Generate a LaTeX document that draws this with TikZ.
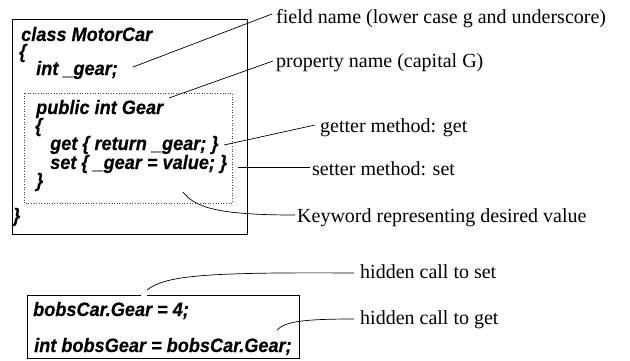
\documentclass[tikz,border=0pt]{standalone}
\usepackage{fontspec}
\setmainfont{Liberation Serif}
\newfontfamily\codefont[FakeStretch=0.93,BoldItalicFeatures={FakeBold=0.3}]{Liberation Sans}
\begin{document}
\begin{tikzpicture}[x=1pt,y=-1pt,
  code/.style={anchor=base west,inner sep=0pt,font=\codefont\bfseries\itshape\fontsize{19.5}{22}\selectfont},
  note/.style={anchor=base west,inner sep=0pt,font=\fontsize{20}{24}\selectfont},
  frame/.style={draw=black,line width=0.9pt},
  leader/.style={draw=black,line width=0.7pt}]
\useasboundingbox (0,0) rectangle (630,360);

% class listing
\draw[frame] (12,19) rectangle (247,234);
\draw[draw=black!75,line width=0.6pt,dotted] (24,93) rectangle (232,203);
\node[code] (c1) at (21,41) {class MotorCar};
\node[code] (c2) at (19,58) {\{};
\node[code] (c3) at (36,75) {int \_gear;};
\node[code] (c4) at (36,114) {public int Gear};
\node[code] (c5) at (35,132) {\{};
\node[code] (c6) at (50,150) {get \{ return \_gear; \}};
\node[code] (c7) at (50,169) {set \{ \_gear = value; \}};
\node[code] (c8) at (36,187) {\}};
\node[code] (c9) at (13,222) {\}};

% usage listing (top edge left open where the leader starts)
\draw[frame] (141,295) -- (27,295) -- (27,358) -- (299,358) -- (299,295) -- (147,295);
\node[code] (u1) at (33,316) {bobsCar.Gear = 4;};
\node[code] (u2) at (34,352) {int bobsGear = bobsCar.Gear;};

% annotations
\node[note] (fld) at (276,23) {field name (lower case g and underscore)};
\node[note] (prp) at (276,67) {property name (capital G)};
\node[note] (gtr) at (320,132) {getter method: get};
\node[note] (str) at (312,175) {setter method: set};
\node[note] (kwd) at (297,222) {Keyword representing desired value};
\node[note] (hset) at (360,278) {hidden call to set};
\node[note] (hget) at (360,324) {hidden call to get};

% points the leaders refer to
\coordinate (pf) at (133,67);
\coordinate (pp) at (169,98);
\coordinate (pg) at (224,145);
\coordinate (ps) at (238,167);
\coordinate (pk) at (183,192);
\coordinate (phs) at (147,290);
\coordinate (phg) at (277,330);

\draw[leader] (pf) -- ([xshift=-4pt,yshift=9pt]fld.base west);
\draw[leader] (pp) -- ([xshift=-3pt,yshift=6pt]prp.base west);
\draw[leader] (pg) -- ([xshift=-5pt,yshift=7pt]gtr.base west);
\draw[leader] (ps) -- ([xshift=-2pt,yshift=8pt]str.base west);
\draw[leader] (pk) .. controls (195,208) and (220,215) .. ([xshift=-2pt,yshift=7pt]kwd.base west);
\draw[leader] (phs) .. controls (165,276) and (200,272) .. ([xshift=-6pt,yshift=5pt]hset.base west);
\draw[leader] (phg) .. controls (285,322) and (300,319) .. ([xshift=-6pt,yshift=5pt]hget.base west);
\end{tikzpicture}
\end{document}
